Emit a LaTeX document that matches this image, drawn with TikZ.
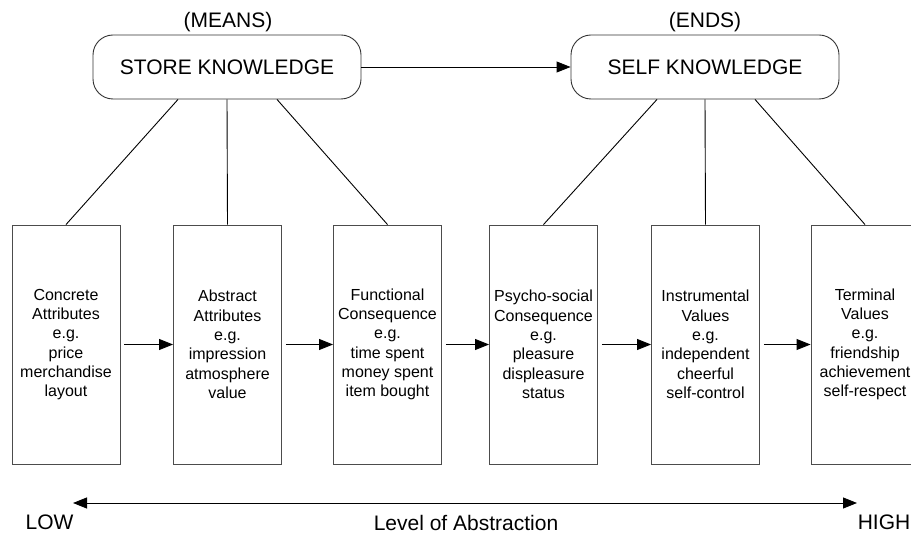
\documentclass[tikz,border=0pt]{standalone}
\usepackage{fontspec}
\setmainfont{Liberation Sans}
\usetikzlibrary{arrows.meta,positioning}

\tikzset{
  knowbox/.style={draw=black!80, rounded corners=20pt, minimum width=268pt,
    minimum height=64pt, font=\fontsize{21}{25}\selectfont},
  stagebox/.style={draw=black!70, minimum width=108pt, minimum height=239pt,
    align=center, inner sep=1pt, font=\fontsize{16}{19.3}\selectfont},
  tag/.style={inner sep=0pt, font=\fontsize{21}{25}\selectfont},
  flow/.style={-{Triangle[length=14pt,width=11pt]}},
}

\begin{document}
\begin{tikzpicture}[x=1pt,y=-1pt,line width=0.9pt]
\clip (0,0) rectangle (911,534);
% means and ends
\node[knowbox] (store) at (227,67) {STORE KNOWLEDGE};
\node[knowbox] (self) at (705,67) {SELF KNOWLEDGE};
\node[tag] (means) at (228,22) {(MEANS)};
\node[tag] (ends) at (705,22) {(ENDS)};
\draw[flow] (store) -- (self);
% the six stages
\node[stagebox] (concrete) at (66,344.5) {Concrete\\Attributes\\e.g.\\price\\merchandise\\layout};
\node[stagebox] (abstract) at (227.5,344.5) {Abstract\\Attributes\\e.g.\\impression\\atmosphere\\value};
\node[stagebox] (functional) at (387.5,344.5) {Functional\\Consequence\\e.g.\\time spent\\money spent\\item bought};
\node[stagebox] (psycho) at (543.5,344.5) {Psycho-social\\Consequence\\e.g.\\pleasure\\displeasure\\status};
\node[stagebox] (instrumental) at (705.5,344.5) {Instrumental\\Values\\e.g.\\independent\\cheerful\\self-control};
\node[stagebox] (terminal) at (865,344.5) {Terminal\\Values\\e.g.\\friendship\\achievement\\self-respect};
\draw (store.south) ++(-49,0) -- (concrete.north);
\draw (store.south) -- (abstract.north);
\draw (store.south) ++(50,0) -- (functional.north);
\draw (self.south) ++(-48,0) -- (psycho.north);
\draw (self.south) -- (instrumental.north);
\draw (self.south) ++(50,0) -- (terminal.north);
\draw[flow] ([xshift=4pt]concrete.east) -- (abstract.west);
\draw[flow] ([xshift=4pt]abstract.east) -- (functional.west);
\draw[flow] ([xshift=4pt]functional.east) -- (psycho.west);
\draw[flow] ([xshift=4pt]psycho.east) -- (instrumental.west);
\draw[flow] ([xshift=4pt]instrumental.east) -- (terminal.west);
% abstraction scale
\coordinate (lowend) at (73,503);
\coordinate (highend) at (857,503);
\draw[{Triangle[length=14pt,width=11pt]}-{Triangle[length=14pt,width=11pt]}] (lowend) -- (highend);
\node[tag] (low) at (49.5,522.5) {LOW};
\node[tag] (level) at (466,522.5) {Level of Abstraction};
\node[tag] (high) at (884,522.5) {HIGH};
\end{tikzpicture}
\end{document}
